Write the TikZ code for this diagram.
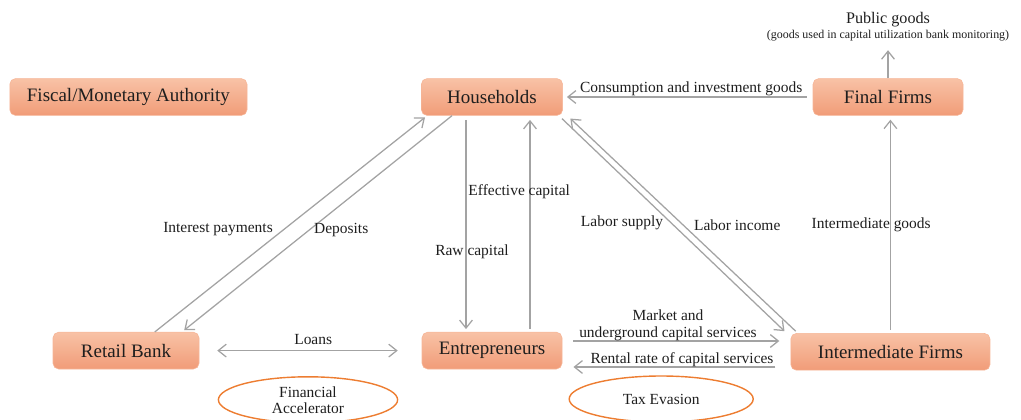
\documentclass[tikz,border=0pt]{standalone}
\usepackage{fontspec}
\setmainfont{Liberation Serif}
\usepackage{xcolor}
\definecolor{boxtop}{HTML}{F8C2A6}
\definecolor{boxbot}{HTML}{F19C78}
\definecolor{boxedge}{HTML}{F6B597}
\definecolor{flowgray}{HTML}{A3A3A3}
\definecolor{ovalorange}{HTML}{ED7D31}
\definecolor{txtdark}{HTML}{1E1E1E}
\usepackage{tikz}
\usetikzlibrary{arrows.meta, shapes.geometric}

\tikzset{
  agent/.style={rectangle, rounded corners=4pt, draw=boxedge, thin,
    top color=boxtop, bottom color=boxbot, minimum height=0.92cm,
    font=\fontsize{13.5}{16}\selectfont, text=txtdark, inner sep=2pt},
  flow/.style={draw=flowgray, line width=0.9pt, ->},
  lbl/.style={font=\fontsize{11}{12}\selectfont, text=txtdark, inner sep=1pt, align=center},
  oval/.style={ellipse, draw=ovalorange, line width=1pt, minimum height=1.15cm,
    font=\fontsize{11}{11.5}\selectfont, text=txtdark, align=center, inner sep=0pt}
}

\begin{document}
\begin{tikzpicture}[>={Straight Barb[length=2mm,width=3.2mm]}]
  \useasboundingbox (0,0) rectangle (25.525,10.475);

  % Top row
  \node[agent, minimum width=5.93cm] (fiscal) at (3.21,8.05) {Fiscal/Monetary Authority};
  \node[agent, minimum width=3.53cm] (hh) at (12.3,8.05) {Households};
  \node[agent, minimum width=3.75cm] (final) at (22.2,8.05) {Final Firms};

  % Bottom row
  \node[agent, minimum width=3.65cm] (bank) at (3.15,1.71) {Retail Bank};
  \node[agent, minimum width=3.5cm] (ent) at (12.3,1.71) {Entrepreneurs};
  \node[agent, minimum width=4.98cm] (inter) at (22.26,1.68) {Intermediate Firms};

  % Public goods
  \node[lbl, font=\fontsize{11.5}{13}\selectfont] (pub) at (22.2,9.98) {Public goods};
  \node[lbl, font=\fontsize{8.5}{10}\selectfont] (pubnote) at (22.2,9.58)
       {(goods used in capital utilization bank monitoring)};
  \coordinate (pubtip) at (22.2,9.22);
  \draw[flow] (final.north) -- (pubtip);

  % Final firms -> households
  \draw[flow, shorten <=0.15cm, shorten >=0.1cm] (final.west) -- (hh.east);
  \node[lbl] (consum) at (17.28,8.25) {Consumption and investment goods};

  % Intermediate -> final
  \draw[flow, shorten <=0.08cm, shorten >=0.1cm] (inter.north) -- (inter.north |- final.south);
  \node[lbl] (intgoods) at (21.78,4.85) {Intermediate goods};

  % Bank <-> households
  \draw[flow, shorten >=2pt] ([xshift=0.72cm]bank.north) -- ([xshift=-1.62cm]hh.south);
  \draw[flow, shorten >=2pt] ([xshift=-1cm]hh.south) -- ([xshift=1.4cm]bank.north);
  \node[lbl] (interest) at (5.45,4.75) {Interest payments};
  \node[lbl] (deposits) at (8.53,4.73) {Deposits};

  % Households <-> entrepreneurs
  \draw[flow, shorten <=3pt, shorten >=2pt] ([xshift=-0.65cm]hh.south) -- ([xshift=-0.65cm]ent.north);
  \draw[flow, shorten <=2pt, shorten >=3pt] ([xshift=0.95cm]ent.north) -- ([xshift=0.95cm]hh.south);
  \node[lbl] (rawcap) at (11.8,4.18) {Raw capital};
  \node[lbl] (effcap) at (12.98,5.68) {Effective capital};

  % Households <-> intermediate firms
  \draw[flow, shorten <=3pt, shorten >=2pt] ([xshift=-0.1cm]hh.south east) -- ([xshift=-0.1cm]inter.north west);
  \draw[flow, shorten <=2pt, shorten >=3pt] ([xshift=0.18cm]inter.north west) -- ([xshift=0.11cm]hh.south east);
  \node[lbl] (labsup) at (15.55,4.9) {Labor supply};
  \node[lbl] (labinc) at (18.43,4.85) {Labor income};

  % Loans
  \draw[flow, <->, shorten <=0.45cm, shorten >=0.6cm] (bank.east) -- (ent.west);
  \node[lbl] (loans) at (7.83,1.98) {Loans};

  % Capital services
  \draw[flow, shorten <=0.28cm, shorten >=0.28cm]
       ([yshift=0.24cm]ent.east) -- ([yshift=0.24cm]ent.east -| inter.west);
  \node[lbl] (market) at (16.7,2.35) {Market and\\underground capital services};
  \draw[flow, shorten <=0.38cm, shorten >=0.28cm]
       ([yshift=-0.41cm]ent.east -| inter.west) -- ([yshift=-0.41cm]ent.east);
  \node[lbl] (rental) at (17.05,1.48) {Rental rate of capital services};

  % Frictions
  \node[oval, minimum width=4.48cm] (finacc) at (7.7,0.48) {Financial\\Accelerator};
  \node[oval, minimum width=4.6cm] (taxev) at (16.53,0.5) {Tax Evasion};
\end{tikzpicture}
\end{document}
